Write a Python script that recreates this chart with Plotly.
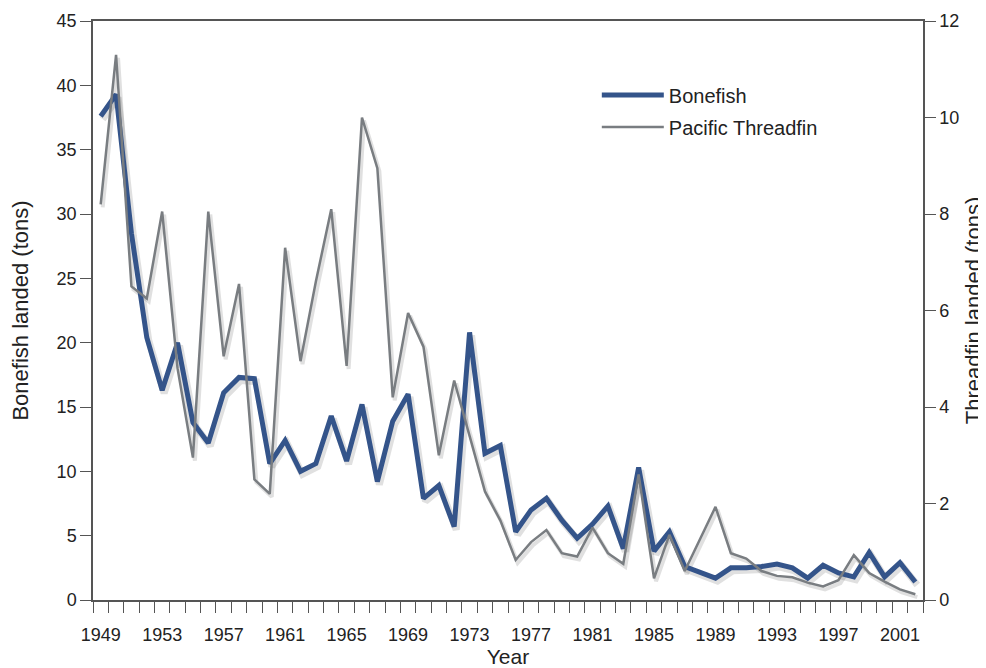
import plotly.graph_objects as go

# years on the x axis
years = list(range(1949, 2003))

# bonefish landed, tons (left axis)
bonefish = [37.6, 39.3, 28.5, 20.4, 16.3, 20.0, 13.8, 12.2, 16.1, 17.3,
            17.2, 10.6, 12.4, 10.0, 10.6, 14.3, 10.8, 15.2, 9.2, 13.9,
            16.0, 7.9, 8.9, 5.7, 20.8, 11.4, 12.0, 5.3, 7.0, 7.9,
            6.2, 4.8, 5.9, 7.3, 4.0, 10.3, 3.8, 5.3, 2.6, 2.1,
            1.7, 2.5, 2.5, 2.6, 2.8, 2.5, 1.7, 2.7, 2.1, 1.8,
            3.7, 1.8, 2.9, 1.4]

# pacific threadfin landed, tons (right axis)
threadfin = [8.2, 11.3, 6.5, 6.25, 8.05, 4.8, 2.95, 8.05, 5.05, 6.55,
             2.5, 2.2, 7.3, 4.95, 6.6, 8.1, 4.85, 10.0, 8.95, 4.2,
             5.95, 5.25, 3.0, 4.55, 3.4, 2.25, 1.65, 0.83, 1.2, 1.45,
             0.97, 0.9, 1.5, 0.97, 0.75, 2.6, 0.45, 1.35, 0.6, 1.25,
             1.93, 0.97, 0.86, 0.6, 0.5, 0.47, 0.36, 0.28, 0.41, 0.93,
             0.56, 0.38, 0.22, 0.12]

year_labels = list(range(1949, 2002, 4))

blue = '#34548a'
grey = '#797d81'
shadow = 'rgba(0,0,0,0.12)'
axis_col = '#555555'
font = 'Liberation Sans, Arial, sans-serif'

x_range = [1948.5, 2002.5]
left_range = [0, 45]
right_range = [0, 12]

# drop shadow: same data drawn on hidden axes nudged ~2px right / 3px down
sx, sl, sr = 0.13, 0.233, 0.062

fig = go.Figure()

# shadows (base subplot, drawn first)
fig.add_trace(
    go.Scatter(x=years, y=bonefish, mode='lines', showlegend=False,
               hoverinfo='skip', line=dict(color=shadow, width=7),
               xaxis='x', yaxis='y'))
fig.add_trace(
    go.Scatter(x=years, y=threadfin, mode='lines', showlegend=False,
               hoverinfo='skip', line=dict(color=shadow, width=4),
               xaxis='x', yaxis='y4'))

# the real lines
fig.add_trace(
    go.Scatter(x=years, y=bonefish, mode='lines', name='Bonefish',
               legendgroup='a', line=dict(color=blue, width=5),
               xaxis='x2', yaxis='y2'))
fig.add_trace(
    go.Scatter(x=years, y=threadfin, mode='lines', name='Pacific Threadfin',
               legendgroup='b', line=dict(color=grey, width=2.5),
               xaxis='x2', yaxis='y3'))

# the page puts an 8px body margin round the plot
fig.update_layout(
    width=978, height=660,
    margin=dict(l=85, r=63, t=13, b=68),
    plot_bgcolor='white', paper_bgcolor='white',
    font=dict(family=font, size=18, color='#222222'),
    showlegend=True,
    legend=dict(x=0.607, y=0.906, xanchor='left', yanchor='top',
                font=dict(size=20), bgcolor='rgba(0,0,0,0)',
                itemwidth=62, traceorder='grouped', tracegroupgap=3),
    xaxis=dict(range=[x_range[0] - sx, x_range[1] - sx], visible=False),
    yaxis=dict(range=[left_range[0] + sl, left_range[1] + sl], visible=False),
    yaxis4=dict(range=[right_range[0] + sr, right_range[1] + sr],
                overlaying='y', visible=False),
    xaxis2=dict(
        overlaying='x', anchor='y2', side='bottom',
        range=x_range, tickmode='array', tickvals=year_labels,
        ticks='', showgrid=False, zeroline=False, automargin=False,
        showline=True, linecolor=axis_col, linewidth=1.5, mirror=True,
        ticklabelstandoff=18,
        minor=dict(tickmode='linear', tick0=1948.5, dtick=1, ticks='outside',
                   ticklen=11, tickcolor=axis_col, tickwidth=1, showgrid=False),
        title=dict(text='Year', font=dict(size=21), standoff=6)),
    yaxis2=dict(
        overlaying='y', anchor='x2', side='left',
        range=left_range, dtick=5, ticks='outside', ticklen=11,
        tickcolor=axis_col, showgrid=False, zeroline=False, automargin=False,
        showline=True, linecolor=axis_col, linewidth=1.5,
        title=dict(text='Bonefish landed (tons)', font=dict(size=22), standoff=25)),
    yaxis3=dict(
        overlaying='y', anchor='x2', side='right',
        range=right_range, dtick=2,
        ticks='outside', ticklen=11, tickcolor=axis_col,
        showgrid=False, zeroline=False, automargin=False,
        showline=True, linecolor=axis_col, linewidth=1.5,
        title=dict(text='Threadfin landed (tons)', font=dict(size=22), standoff=15)),
)

fig.write_html("out.html")
